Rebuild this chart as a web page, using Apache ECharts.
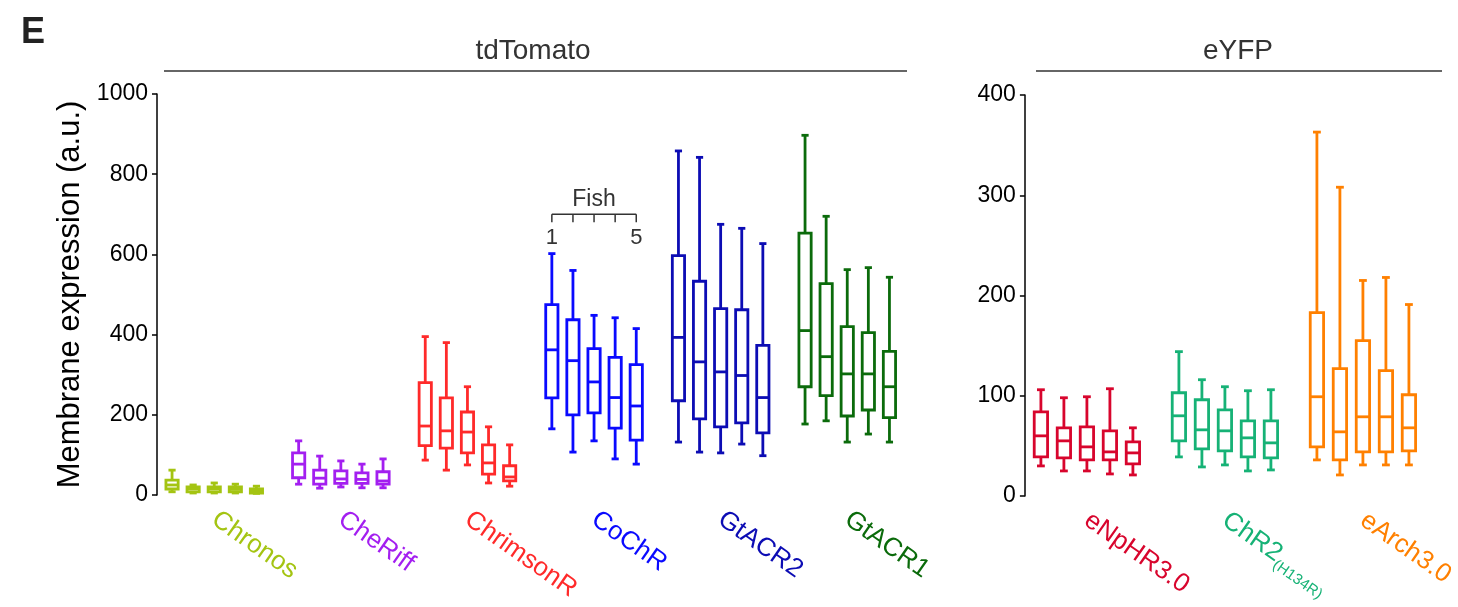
<!DOCTYPE html>
<html>
<head>
<meta charset="utf-8">
<title>Membrane expression</title>
<script src="https://cdn.jsdelivr.net/npm/echarts@6/dist/echarts.min.js"></script>
<style>
  html, body { margin: 0; padding: 0; background: #fff; }
  #chart { width: 1458px; height: 607px; }
</style>
</head>
<body>
<div id="chart"></div>
<script>
  // group names + colours
  const tdGroups = ['Chronos', 'CheRiff', 'ChrimsonR', 'CoChR', 'GtACR2', 'GtACR1'];
  const tdColors = ['#a4c412', '#a31ff0', '#ff2a2a', '#0a0aff', '#0c0cb4', '#0b6b0b'];
  const yfpGroups = ['eNpHR3.0', 'ChR2', 'eArch3.0'];
  const yfpColors = ['#d8052d', '#16b276', '#ff8000'];

  // per fish: [min, q1, median, q3, max]
  const chronos = [[8, 15, 25, 37, 62], [5, 8, 15, 20, 25], [5, 8, 15, 20, 30], [5, 8, 14, 20, 27], [4, 5, 10, 15, 22]];
  const cheRiff = [[27, 43, 77, 105, 135], [17, 27, 42, 62, 97], [20, 29, 40, 60, 85], [18, 29, 39, 55, 77], [18, 27, 35, 58, 90]];
  const chrimsonR = [[87, 123, 172, 280, 395], [62, 117, 160, 242, 380], [75, 105, 157, 207, 270], [30, 52, 80, 125, 170], [22, 35, 45, 73, 125]];
  const coChR = [[165, 242, 362, 475, 602], [107, 200, 335, 437, 560], [135, 205, 282, 365, 448], [90, 167, 243, 343, 442], [77, 137, 222, 325, 415]];
  const gtACR2 = [[132, 235, 393, 597, 858], [107, 190, 332, 533, 842], [105, 170, 307, 465, 675], [127, 180, 298, 462, 665], [98, 155, 243, 373, 627]];
  const gtACR1 = [[177, 270, 410, 653, 897], [185, 248, 345, 527, 695], [132, 197, 302, 420, 562], [152, 212, 302, 405, 567], [132, 193, 270, 358, 543]];
  const eNpHR = [[30, 39, 60, 84, 106], [25, 38, 55, 68, 98], [25, 36, 49, 69, 99], [22, 36, 44, 65, 107], [21, 32, 43, 54, 68]];
  const chR2 = [[39, 55, 80, 103, 144], [29, 47, 66, 96, 116], [31, 45, 65, 86, 109], [25, 39, 58, 75, 105], [26, 38, 53, 75, 106]];
  const eArch = [[36, 49, 99, 183, 363], [21, 36, 64, 127, 308], [31, 44, 79, 155, 215], [31, 44, 79, 125, 218], [31, 45, 68, 101, 191]];

  const tdData = [chronos, cheRiff, chrimsonR, coChR, gtACR2, gtACR1];
  const yfpData = [eNpHR, chR2, eArch];

  // y ticks
  const tdTicks = { min: 0, max: 1000, interval: 200 };
  const yfpTicks = { min: 0, max: 400, interval: 100 };

  // inset "Fish" bracket (CoChR group, value units)
  const fishSlots = [18, 22];
  const fishLineY = 700;

  const font = '"Liberation Sans", Arial, Helvetica, sans-serif';
  const FISH = 5;

  // 5 boxes per group, one empty slot between groups
  const makeSlots = (groups) => {
    const out = [];
    groups.forEach((g, gi) => {
      for (let i = 0; i < FISH; i++) out.push(i === 2 ? g : '');
      if (gi < groups.length - 1) out.push('');
    });
    return out;
  };
  const tdSlots = makeSlots(tdGroups);
  const yfpSlots = makeSlots(yfpGroups);

  const labelColor = (groups, colors) => (val) => {
    const i = groups.indexOf(val);
    return i >= 0 ? colors[i] : '#000';
  };

  const renderBox = (params, api) => {
    const x = api.value(0);
    const pts = [1, 2, 3, 4, 5].map((k) => api.coord([x, api.value(k)]));
    const cx = pts[0][0];
    const slotW = api.size([1, 0])[0];
    const hw = slotW * 0.29;
    const cw = slotW * 0.17;
    const style = { stroke: api.visual('color'), lineWidth: 2.8, fill: null };
    const ln = (x1, y1, x2, y2) => ({ type: 'line', shape: { x1, y1, x2, y2 }, style });
    return {
      type: 'group',
      children: [
        { type: 'rect', shape: { x: cx - hw, y: pts[3][1], width: hw * 2, height: pts[1][1] - pts[3][1] }, style },
        ln(cx - hw, pts[2][1], cx + hw, pts[2][1]),
        ln(cx, pts[3][1], cx, pts[4][1]),
        ln(cx, pts[1][1], cx, pts[0][1]),
        ln(cx - cw, pts[4][1], cx + cw, pts[4][1]),
        ln(cx - cw, pts[0][1], cx + cw, pts[0][1])
      ]
    };
  };

  const makeSeries = (data, colors, axisIdx) =>
    data.map((boxes, gi) => ({
      type: 'custom',
      xAxisIndex: axisIdx,
      yAxisIndex: axisIdx,
      renderItem: renderBox,
      itemStyle: { color: colors[gi] },
      encode: { x: 0, y: [1, 2, 3, 4, 5] },
      data: boxes.map((b, i) => [gi * (FISH + 1) + i].concat(b)),
      silent: true
    }));

  const xAxisBase = (slots, groups, colors, idx) => ({
    type: 'category',
    gridIndex: idx,
    data: slots,
    axisLine: { show: false },
    axisTick: { show: false },
    axisLabel: {
      interval: 0,
      rotate: -35,
      margin: 22,
      fontSize: 26,
      fontFamily: font,
      color: labelColor(groups, colors),
      formatter: (v) => (v === 'ChR2' ? '{a|ChR2}{b|(H134R)}' : v),
      rich: {
        a: { fontSize: 26, fontFamily: font, color: '#16b276' },
        b: { fontSize: 15, fontFamily: font, color: '#16b276', padding: [18, 0, 0, 0] }
      }
    }
  });

  const yAxisBase = (ticks, idx) => ({
    type: 'value',
    gridIndex: idx,
    min: ticks.min,
    max: ticks.max,
    interval: ticks.interval,
    offset: 4.5,
    splitLine: { show: false },
    axisLine: { show: true, lineStyle: { color: '#000', width: 1.5 } },
    axisTick: { show: true, length: 5, lineStyle: { color: '#000', width: 1.5 } },
    axisLabel: { fontSize: 23, color: '#000', fontFamily: font, margin: 9, formatter: (v) => String(v) }
  });

  const chart = echarts.init(document.getElementById('chart'));
  chart.setOption({
    animation: false,
    backgroundColor: '#fff',
    grid: [
      { left: 161.5, top: 94, width: 738.5, height: 401 },
      { left: 1029.4, top: 95, width: 394.4, height: 401 }
    ],
    xAxis: [xAxisBase(tdSlots, tdGroups, tdColors, 0), xAxisBase(yfpSlots, yfpGroups, yfpColors, 1)],
    yAxis: [
      Object.assign(yAxisBase(tdTicks, 0), {
        name: 'Membrane expression (a.u.)',
        nameLocation: 'middle',
        nameGap: 62,
        nameTextStyle: { fontSize: 31, color: '#000', fontFamily: font }
      }),
      yAxisBase(yfpTicks, 1)
    ],
    series: makeSeries(tdData, tdColors, 0).concat(makeSeries(yfpData, yfpColors, 1))
  });

  // header annotations + fish bracket
  const p1 = chart.convertToPixel({ xAxisIndex: 0, yAxisIndex: 0 }, [fishSlots[0], fishLineY]);
  const p2 = chart.convertToPixel({ xAxisIndex: 0, yAxisIndex: 0 }, [fishSlots[1], fishLineY]);
  const step = (p2[0] - p1[0]) / (fishSlots[1] - fishSlots[0]);
  const bracket = [
    { type: 'line', shape: { x1: p1[0], y1: p1[1], x2: p2[0], y2: p1[1] }, style: { stroke: '#333', lineWidth: 1.5 } }
  ];
  for (let i = 0; i <= fishSlots[1] - fishSlots[0]; i++) {
    const x = p1[0] + i * step;
    bracket.push({ type: 'line', shape: { x1: x, y1: p1[1], x2: x, y2: p1[1] + 8 }, style: { stroke: '#333', lineWidth: 1.5 } });
  }
  bracket.push(
    { type: 'text', x: (p1[0] + p2[0]) / 2, y: p1[1] - 3, style: { text: 'Fish', font: '23px ' + font, fill: '#333', align: 'center', verticalAlign: 'bottom' } },
    { type: 'text', x: p1[0], y: p1[1] + 13, style: { text: '1', font: '22px ' + font, fill: '#333', align: 'center', verticalAlign: 'top' } },
    { type: 'text', x: p2[0], y: p1[1] + 13, style: { text: '5', font: '22px ' + font, fill: '#333', align: 'center', verticalAlign: 'top' } }
  );

  chart.setOption({
    graphic: [
      { type: 'text', left: 21, top: 15, style: { text: 'E', font: 'bold 36px ' + font, fill: '#222' } },
      { type: 'line', shape: { x1: 164, y1: 71, x2: 907, y2: 71 }, style: { stroke: '#333', lineWidth: 1.5 } },
      { type: 'text', x: 533, y: 65, style: { text: 'tdTomato', font: '28px ' + font, fill: '#333', align: 'center', verticalAlign: 'bottom' } },
      { type: 'line', shape: { x1: 1036, y1: 71, x2: 1442, y2: 71 }, style: { stroke: '#333', lineWidth: 1.5 } },
      { type: 'text', x: 1238, y: 65, style: { text: 'eYFP', font: '28px ' + font, fill: '#333', align: 'center', verticalAlign: 'bottom' } }
    ].concat(bracket)
  });
</script>
</body>
</html>
